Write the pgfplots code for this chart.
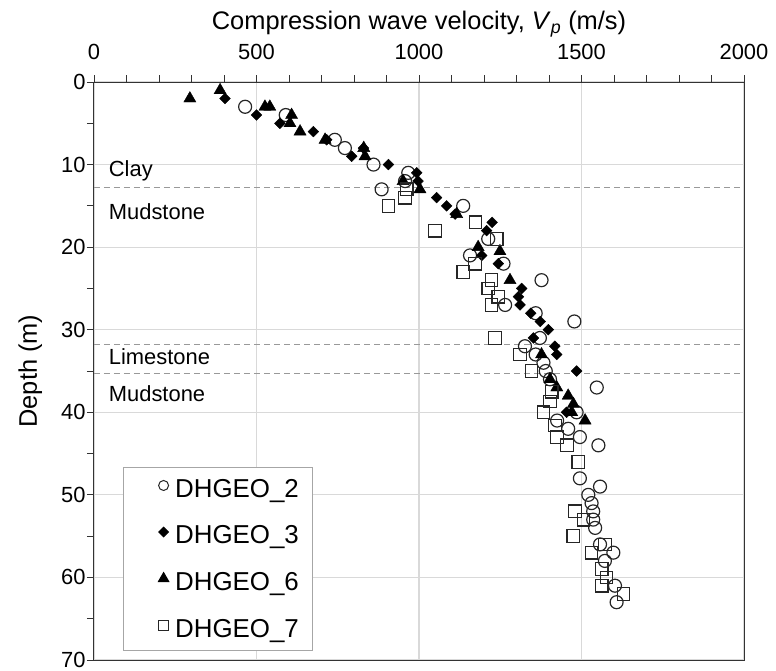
\documentclass[border=0pt]{standalone}
\usepackage{fontspec}
\setmainfont{Liberation Sans}
\usepackage{pgfplots}
\usepackage{pgfplotstable}
\pgfplotsset{compat=1.18}
\pgfplotstableread{
v d
465 3
590 4
741 7
772 8
860 10
967 11
957 12
885 13
1136 15
1213 19
1157 21
1260 22
1377 24
1265 27
1359 28
1478 29
1372 31
1326 32
1359 33
1383 34
1390 35
1403 36
1547 37
1485 40
1425 41
1459 42
1495 43
1552 44
1495 48
1557 49
1521 50
1531 51
1536 52
1536 53
1542 54
1557 56
1598 57
1572 58
1603 61
1608 63
}\dgtwo
\pgfplotstableread{
v d
403 2
500 4
572 5
675 6
716 7
829 8
793 9
906 10
993 11
997 12
1054 14
1085 15
1111 16
1225 17
1208 18
1193 21
1244 22
1316 25
1306 26
1311 27
1344 28
1373 29
1398 30
1352 31
1418 32
1424 33
1485 35
1454 40
}\dgthree
\pgfplotstableread{
v d
295 2
388 1
526 3
541 3
608 4
603 5
634 6
711 7
830 8
834 9
951 12
1003 13
1116 16
1182 20
1249 20.5
1280 24
1377 33
1403 36
1424 37
1459 38
1475 39
1470 40
1511 41
}\dgsix
\pgfplotstableread{
v d
962 13
957 14
906 15
1174 17
1049 18
1239 19
1172 22
1136 23
1223 24
1213 25
1244 26
1223 27
1234 31
1311 33
1346 35
1408 37.5
1403 38.7
1383 40
1418 41.6
1425 43
1455 44
1490 46
1480 52
1506 53
1475 55
1572 56
1531 57
1562 59
1577 60
1562 61
1629 62
}\dgseven
\begin{document}
\begin{tikzpicture}
\useasboundingbox (-94bp,-11bp) rectangle (682bp,660bp);
\begin{axis}[
  at={(0,0)}, anchor=south west,
  scale only axis, width=650bp, height=578bp,
  xmin=0, xmax=2000, ymin=0, ymax=70, y dir=reverse,
  xtick={0,500,...,2000}, ytick={0,10,...,70},
  minor x tick num=4, minor y tick num=1,
  xticklabel pos=upper, xtick pos=upper, ytick pos=left,
  tick align=outside, major tick length=7bp, minor tick length=7bp,
  grid=major, major grid style={draw=black!15, line width=1.2bp},
  axis line style={black!80, line width=1bp},
  tick style={black!80, line width=0.8bp},
  /pgf/number format/assume math mode=true,
  /pgf/number format/1000 sep={},
  ticklabel style={font=\fontsize{22}{26}\selectfont},
  xticklabel style={yshift=12bp},
  yticklabel style={xshift=2bp},
  xlabel style={font=\fontsize{25.5}{30}\selectfont},
  ylabel style={font=\fontsize{25.5}{30}\selectfont},
  xlabel shift=0bp,
  ylabel shift=12bp,
  xlabel={Compression wave velocity, \textit{V}\textsubscript{\textit{p}} (m/s)},
  ylabel={Depth (m)},
  legend cell align=left,
  legend style={at={(0.044,0.0155)}, anchor=south west, draw=black!35, line width=1bp,
    font=\fontsize{26}{30}\selectfont, row sep=23bp, inner xsep=12bp, inner ysep=10bp},
  legend image code/.code={\path (-28bp,0bp) (9bp,0bp); \draw[#1] plot coordinates {(0bp,0.36em)};},
]
\addplot[forget plot, black!40, line width=1.3bp, dash pattern=on 6bp off 4bp] coordinates {(0,12.8) (2000,12.8)};
\addplot[forget plot, black!40, line width=1.3bp, dash pattern=on 6bp off 4bp] coordinates {(0,31.8) (2000,31.8)};
\addplot[forget plot, black!40, line width=1.3bp, dash pattern=on 6bp off 4bp] coordinates {(0,35.3) (2000,35.3)};
\node[anchor=west, font=\fontsize{22}{26}\selectfont] at (axis cs:35,10.8) {Clay};
\node[anchor=west, font=\fontsize{22}{26}\selectfont] at (axis cs:35,15.7) {Mudstone};
\node[anchor=west, font=\fontsize{22}{26}\selectfont] at (axis cs:35,33.3) {Limestone};
\node[anchor=west, font=\fontsize{22}{26}\selectfont] at (axis cs:35,37.8) {Mudstone};
\addplot[only marks, mark=o, mark size=6.5bp, black!85, line width=1.2bp,
  legend image post style={mark size=5bp, line width=1bp}] table[x=v,y=d] {\dgtwo};
\addlegendentry{DHGEO\_2}
\addplot[only marks, mark=square*, mark options={rotate=45}, mark size=3.8bp, black,
  legend image post style={mark size=3.4bp}] table[x=v,y=d] {\dgthree};
\addlegendentry{DHGEO\_3}
\addplot[only marks, mark=triangle*, mark size=7bp, black,
  legend image post style={mark size=6bp}] table[x=v,y=d] {\dgsix};
\addlegendentry{DHGEO\_6}
\addplot[only marks, mark=square, mark size=6.3bp, black!85, line width=1.2bp,
  legend image post style={mark size=5bp, line width=1bp}] table[x=v,y=d] {\dgseven};
\addlegendentry{DHGEO\_7}
\end{axis}
\end{tikzpicture}
\end{document}
